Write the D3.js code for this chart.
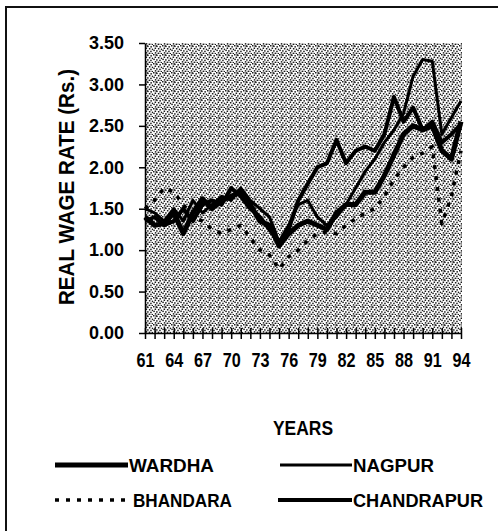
<!DOCTYPE html>
<html>
<head>
<meta charset="utf-8">
<script src="https://cdn.jsdelivr.net/npm/d3@7"></script>
<style>
  body { margin: 0; background: #fff; }
  svg { display: block; font-family: "Liberation Sans", Arial, sans-serif; }
</style>
</head>
<body>
<svg id="chart" width="498" height="531"></svg>
<script>
// years on the category axis (19xx)
const years = [61,62,63,64,65,66,67,68,69,70,71,72,73,74,75,76,77,78,79,80,
               81,82,83,84,85,86,87,88,89,90,91,92,93,94];
const yearLabels = [61,64,67,70,73,76,79,82,85,88,91,94];

// real wage rate (Rs.)
const wardha     = [1.40,1.30,1.32,1.45,1.20,1.45,1.62,1.50,1.60,1.65,1.70,1.55,1.35,1.30,1.05,1.20,1.30,1.35,1.30,1.25,
                    1.45,1.55,1.55,1.70,1.70,1.90,2.15,2.40,2.50,2.45,2.50,2.20,2.10,2.55];
const nagpur     = [1.50,1.45,1.35,1.50,1.35,1.60,1.45,1.55,1.65,1.60,1.75,1.60,1.50,1.40,1.10,1.30,1.55,1.60,1.40,1.30,
                    1.40,1.55,1.75,1.95,2.10,2.30,2.45,2.65,3.10,3.30,3.28,2.40,2.60,2.80];
const bhandara   = [1.50,1.60,1.75,1.70,1.55,1.40,1.35,1.25,1.20,1.25,1.30,1.15,1.00,0.94,0.77,0.92,1.00,1.12,1.20,1.22,
                    1.20,1.30,1.38,1.45,1.50,1.65,1.85,2.00,2.12,2.17,2.25,1.32,1.65,2.20];
const chandrapur = [1.35,1.40,1.30,1.35,1.50,1.35,1.55,1.60,1.55,1.75,1.65,1.50,1.40,1.25,1.10,1.25,1.60,1.80,2.00,2.05,
                    2.33,2.05,2.20,2.25,2.20,2.40,2.85,2.55,2.72,2.45,2.55,2.30,2.40,2.52];

const yTicks = [0,0.5,1,1.5,2,2.5,3,3.5];

const series = [
  {name: "WARDHA",     values: wardha,     width: 5,   dash: null},
  {name: "NAGPUR",     values: nagpur,     width: 3,   dash: null},
  {name: "BHANDARA",   values: bhandara,   width: 3.5, dash: "4,7"},
  {name: "CHANDRAPUR", values: chandrapur, width: 4,   dash: null}
];

const svg = d3.select("#chart");
const plot = {left: 145, right: 461, top: 43, bottom: 333};

// stipple texture like the scanned background
const defs = svg.append("defs");
const pat = defs.append("pattern")
    .attr("id", "stipple")
    .attr("patternUnits", "userSpaceOnUse")
    .attr("width", 9).attr("height", 9);
pat.append("rect").attr("width", 9).attr("height", 9).attr("fill", "#fff");
[[0,0],[3.2,0.6],[6.4,1.1],[1.6,2.5],[4.9,3.0],[7.8,3.6],[0.3,4.6],[3.1,5.2],
 [6.2,5.7],[1.8,7.1],[4.6,7.6],[7.6,7.9],[2.4,0.2],[5.3,8.6]].forEach(p => {
  pat.append("rect").attr("x", p[0]).attr("y", p[1])
     .attr("width", 1.5).attr("height", 1.5).attr("fill", "#1a1a1a");
});

// page frame
svg.append("path")
    .attr("d", "M6,531 V7 H498")
    .attr("fill", "none").attr("stroke", "#111").attr("stroke-width", 2);

const x = d3.scalePoint().domain(years).range([plot.left, plot.right]);
const y = d3.scaleLinear().domain([0, 3.5]).range([plot.bottom, plot.top]);

svg.append("rect")
    .attr("x", plot.left).attr("y", plot.top)
    .attr("width", plot.right - plot.left + 1)
    .attr("height", plot.bottom - plot.top)
    .attr("fill", "url(#stipple)");

// y axis
const yAxis = svg.append("g")
    .attr("transform", `translate(${plot.left},0)`)
    .call(d3.axisLeft(y).tickValues(yTicks).tickFormat(d3.format(".2f"))
          .tickSize(6).tickPadding(15).tickSizeOuter(0));
yAxis.select(".domain").attr("stroke", "#000").attr("stroke-width", 1.5);
yAxis.selectAll("line").attr("stroke", "#000").attr("stroke-width", 1.5);
yAxis.selectAll("text")
    .attr("font-size", 18).attr("font-weight", "bold").attr("fill", "#000")
    .attr("font-family", "Liberation Sans, Arial, sans-serif")
    .attr("textLength", 35).attr("lengthAdjust", "spacingAndGlyphs");

// x axis
const xAxis = svg.append("g")
    .attr("transform", `translate(0,${plot.bottom})`)
    .call(d3.axisBottom(x)
          .tickFormat(d => yearLabels.includes(d) ? d : "")
          .tickSize(6).tickPadding(14).tickSizeOuter(0));
xAxis.select(".domain").attr("stroke", "#000").attr("stroke-width", 1.5);
xAxis.selectAll("line").attr("y1", -5).attr("stroke", "#000").attr("stroke-width", 1.5);
xAxis.selectAll("text")
    .attr("font-size", 20).attr("font-weight", "bold").attr("fill", "#000")
    .attr("font-family", "Liberation Sans, Arial, sans-serif");
xAxis.selectAll("text").filter(d => yearLabels.includes(d))
    .attr("textLength", 18).attr("lengthAdjust", "spacingAndGlyphs");

// series lines
const line = d3.line()
    .x((d, i) => x(years[i]))
    .y(d => y(d));

svg.append("g").selectAll("path")
  .data(series)
  .join("path")
    .attr("d", d => line(d.values))
    .attr("fill", "none")
    .attr("stroke", "#000")
    .attr("stroke-width", d => d.width)
    .attr("stroke-linejoin", "round")
    .attr("stroke-dasharray", d => d.dash);

// axis titles
svg.append("text")
    .attr("transform", "translate(74,187) rotate(-90)")
    .attr("text-anchor", "middle")
    .attr("font-size", 22).attr("font-weight", "bold")
    .attr("textLength", 236).attr("lengthAdjust", "spacingAndGlyphs")
    .text("REAL WAGE RATE (Rs.)");

svg.append("text")
    .attr("x", 303).attr("y", 435)
    .attr("text-anchor", "middle")
    .attr("font-size", 20).attr("font-weight", "bold")
    .attr("textLength", 60).attr("lengthAdjust", "spacingAndGlyphs")
    .text("YEARS");

// legend
const legendItems = [
  {s: series[0], x1: 55,  x2: 128, ty: 472, tw: 85},
  {s: series[1], x1: 280, x2: 352, ty: 472, tw: 81},
  {s: series[2], x1: 55,  x2: 132, ty: 507, tw: 99},
  {s: series[3], x1: 278, x2: 352, ty: 507, tw: 130}
];
const lg = svg.append("g").selectAll("g").data(legendItems).join("g");
lg.append("line")
    .attr("x1", d => d.x1).attr("x2", d => d.x2)
    .attr("y1", d => d.ty - 7).attr("y2", d => d.ty - 7)
    .attr("stroke", "#000")
    .attr("stroke-width", d => d.s.width)
    .attr("stroke-dasharray", d => d.s.dash);
lg.append("text")
    .attr("x", d => d.x2 + 1).attr("y", d => d.ty)
    .attr("font-size", 19).attr("font-weight", "bold")
    .attr("textLength", d => d.tw).attr("lengthAdjust", "spacingAndGlyphs")
    .text(d => d.s.name);
</script>
</body>
</html>
